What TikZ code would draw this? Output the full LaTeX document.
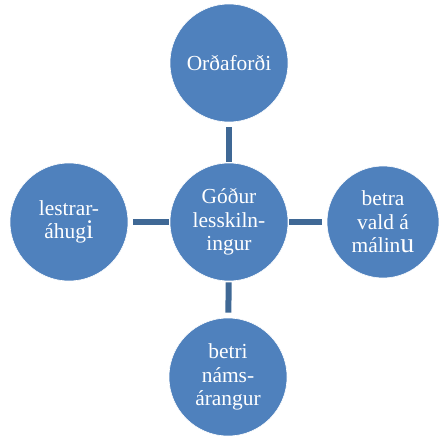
\documentclass[tikz,border=0pt]{standalone}
\usepackage{fontspec}
\setmainfont{Liberation Serif}
\definecolor{bubble}{HTML}{4F81BD}
\definecolor{bar}{HTML}{3F6895}

\begin{document}
\begin{tikzpicture}[x=1bp,y=-1bp,
  main node/.style={circle,fill=bubble,draw=white,line width=0.6pt,
    minimum size=118bp,inner sep=0pt,text=white,align=center,
    font=\fontsize{21.5}{23.5}\selectfont}]

  \useasboundingbox (0,0) rectangle (439,439);

  \node[main node]  (0) at (229,222) {Góður\\lesskiln-\\ingur};
  \node[main node]  (1) at (229,63)  {Orðaforði};
  \node[main node]  (2) at (69,222)  {lestrar-\\áhug{\fontsize{27}{23.5}\selectfont i}};
  \node[main node, minimum size=112bp]  (3) at (383,222) {betra\\vald á\\málin{\fontsize{28}{23.5}\selectfont u}};
  \node[main node]  (4) at (228,377) {betri\\náms-\\árangur};

  \path[draw=bar,line width=6bp,shorten <=1bp,shorten >=5bp]
    (0) edge (1)
    (0) edge (2)
    (0) edge (3)
    (0) edge (4);

\end{tikzpicture}
\end{document}
